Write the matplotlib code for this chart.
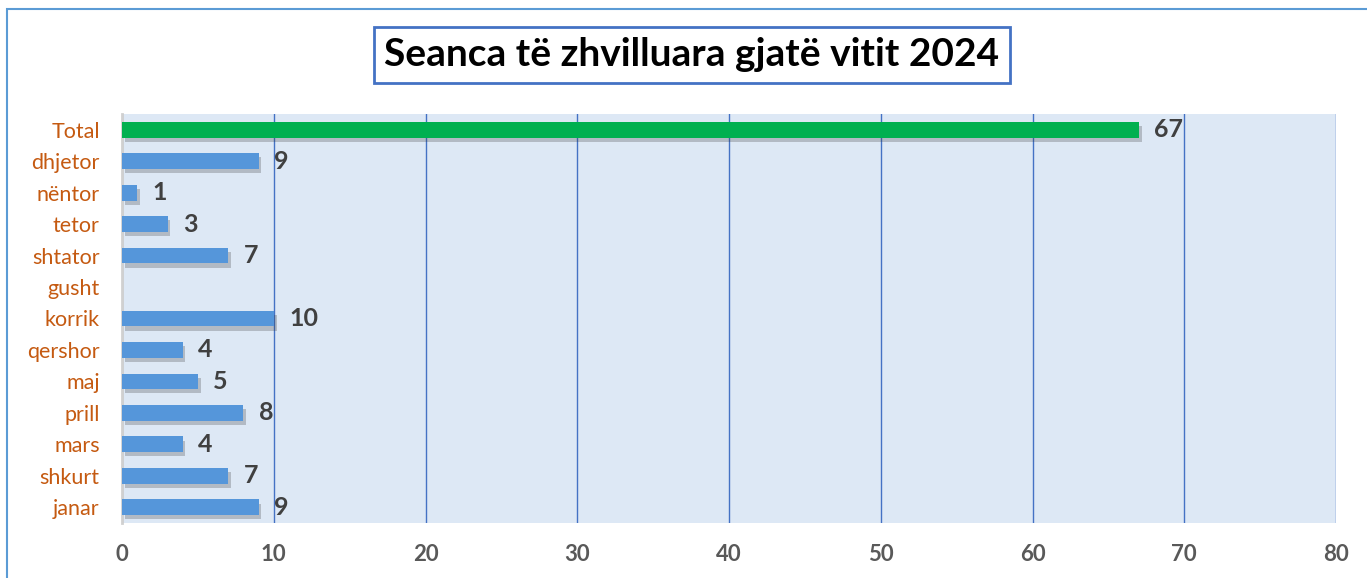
import numpy as np
import matplotlib.pyplot as plt
import matplotlib.patheffects as pe
from matplotlib.patches import Rectangle

months = ['janar', 'shkurt', 'mars', 'prill', 'maj', 'qershor', 'korrik',
          'gusht', 'shtator', 'tetor', 'nëntor', 'dhjetor', 'Total']
sessions = [9, 7, 4, 8, 5, 4, 10, 0, 7, 3, 1, 9, 67]
x_ticks = [0, 10, 20, 30, 40, 50, 60, 70, 80]
title = 'Seanca të zhvilluara gjatë vitit 2024'

plt.rcParams['font.family'] = ['Lato', 'DejaVu Sans']

fig = plt.figure(figsize=(13.67, 5.78), dpi=100)
W, H = 1367, 578
ax = fig.add_axes([122 / W, 1 - 523 / H, (1336 - 122) / W, (523 - 114) / H])
ax.set_facecolor('#DDE8F5')

colors = ['#5596DA'] * (len(months) - 1) + ['#00B050']
y = np.arange(len(months))
bars = ax.barh(y, sessions, height=0.5, color=colors, zorder=3)
for b in bars:
    b.set_path_effects([pe.SimplePatchShadow(offset=(2, -3), shadow_rgbFace='#333333', alpha=0.25),
                        pe.Normal()])

# etiketat e vlerave (gushti bosh pa etiketë)
for yi, v in zip(y, sessions):
    if v > 0:
        ax.annotate(str(v), (v, yi), xytext=(11, 0), textcoords='offset points',
                    va='center', ha='left', fontsize=18, fontweight='bold',
                    color='#404040', zorder=4)

ax.set_xlim(0, 80)
ax.set_ylim(-0.5, len(months) - 0.5)
ax.set_xticks(x_ticks)
ax.set_yticks(y)
ax.set_yticklabels(months)
ax.grid(axis='x', color='#4472C4', linewidth=1, zorder=1)
ax.set_axisbelow(True)
for s in ['top', 'right', 'bottom']:
    ax.spines[s].set_visible(False)
ax.spines['left'].set_color('#D0D0D0')
ax.spines['left'].set_linewidth(2)
ax.tick_params(axis='both', length=0)
ax.tick_params(axis='y', labelsize=15.5, labelcolor='#C55A11', pad=16)
ax.tick_params(axis='x', labelsize=16, labelcolor='#595959', pad=15)
for lbl in ax.get_xticklabels():
    lbl.set_fontweight('bold')

fig.text(692 / W, 1 - 55 / H, title, ha='center', va='center',
         fontsize=28, fontweight='bold', color='black',
         bbox=dict(boxstyle='square,pad=0.28', facecolor='white',
                   edgecolor='#4472C4', linewidth=2))

fig.patches.append(Rectangle((7 / W, -0.1), 1.5, 1.1 - 9 / H, transform=fig.transFigure,
                             fill=False, edgecolor='#5B9BD5', linewidth=1.5))

fig.savefig('out.png', dpi=100)
